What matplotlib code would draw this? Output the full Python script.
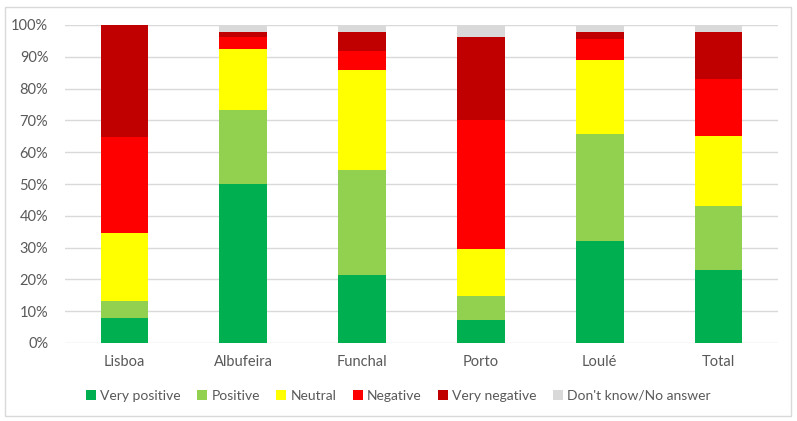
import matplotlib
matplotlib.use("Agg")
import matplotlib.pyplot as plt
from matplotlib.patches import Rectangle, Patch
from matplotlib.ticker import FuncFormatter
import numpy as np

plt.rcParams['font.family'] = ['Lato', 'DejaVu Sans']

categories = ["Lisboa", "Albufeira", "Funchal", "Porto", "Loulé", "Total"]
series_names = ["Very positive", "Positive", "Neutral", "Negative",
                "Very negative", "Don't know/No answer"]
very_positive = [8.0, 50.0, 21.5, 7.1, 32.0, 23.1]
positive = [5.2, 23.3, 33.0, 7.7, 33.6, 19.9]
neutral = [21.4, 19.3, 31.5, 14.7, 23.5, 22.2]
negative = [30.2, 3.5, 5.7, 40.5, 6.4, 17.9]
very_negative = [35.2, 1.7, 6.1, 26.2, 2.3, 14.7]
dont_know = [0.0, 2.2, 2.2, 3.8, 2.2, 2.2]
colors = ["#00B050", "#92D050", "#FFFF00", "#FF0000", "#C00000", "#D9D9D9"]

series = [very_positive, positive, neutral, negative, very_negative, dont_know]

fig = plt.figure(figsize=(7.97, 4.21), dpi=100)
ax = fig.add_axes([65 / 797, 1 - 343 / 421, (778 - 65) / 797, (343 - 25) / 421])

x = np.arange(len(categories))
bottom = np.zeros(len(categories))
for vals, col in zip(series, colors):
    v = np.array(vals)
    ax.bar(x, v, width=0.40, bottom=bottom, color=col, edgecolor='none', zorder=3)
    bottom += v

ax.set_xlim(-0.5, len(categories) - 0.5)
ax.set_ylim(0, 100)
ax.set_yticks(np.arange(0, 101, 10))
ax.yaxis.set_major_formatter(FuncFormatter(lambda v, p: f"{int(v)}%"))
ax.set_xticks(x)
ax.set_xticklabels(categories)
ax.grid(axis='y', color='#D9D9D9', linewidth=1.0, zorder=0)
ax.tick_params(axis='both', length=0, labelsize=10.5, colors='#595959')
ax.tick_params(axis='x', pad=9)
ax.tick_params(axis='y', pad=12)
for s in ax.spines.values():
    s.set_visible(False)

handles = [Patch(facecolor=c, edgecolor='none') for c in colors]
fig.legend(handles, series_names, loc='center', bbox_to_anchor=(0.5, 1 - 396 / 421),
           ncol=6, frameon=False, fontsize=10, handlelength=0.7, handleheight=0.7,
           handletextpad=0.3, columnspacing=1.2, labelcolor='#595959')

fig.patches.append(Rectangle((5 / 797, 5 / 421), 786 / 797, 409 / 421,
                             transform=fig.transFigure, fill=False,
                             edgecolor='#D9D9D9', linewidth=1.0))

fig.savefig("out.png", dpi=100, facecolor='white')
